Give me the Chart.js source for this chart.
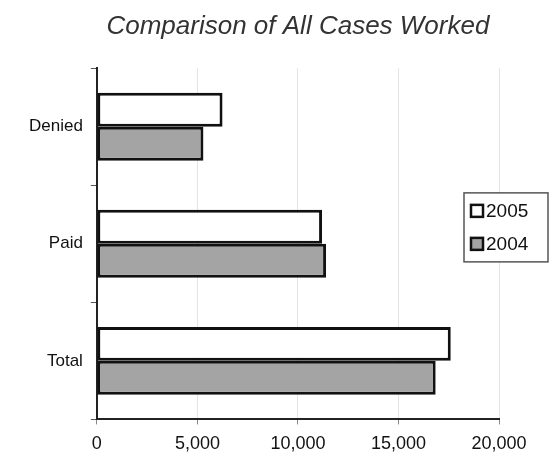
<!DOCTYPE html>
<html>
<head>
<meta charset="utf-8">
<script src="https://cdn.jsdelivr.net/npm/chart.js@4/dist/chart.umd.min.js"></script>
<style>
  html, body { margin: 0; padding: 0; background: #fff; }
  #wrap { width: 549px; height: 460px; }
</style>
</head>
<body>
<div id="wrap"><canvas id="casesChart" width="549" height="460"></canvas></div>
<script>
const categories = ['Denied', 'Paid', 'Total'];
const cases2005 = [6250, 11200, 17600];
const cases2004 = [5300, 11400, 16850];
const seriesLabels = ['2005', '2004'];
const xTicks = [0, 5000, 10000, 15000, 20000];

const FONT = "'Liberation Sans', Arial, sans-serif";

// boxed legend sitting inside the right side of the plot, like the printed chart
const boxLegend = {
  id: 'boxLegend',
  afterDraw(chart) {
    const ctx = chart.ctx;
    const area = chart.chartArea;
    const left = area.right - 35;
    const top = area.top + area.height * 0.355;
    const w = 84, h = 69;
    ctx.save();
    ctx.fillStyle = '#fff';
    ctx.fillRect(left, top, w, h);
    ctx.strokeStyle = '#555';
    ctx.lineWidth = 1.5;
    ctx.strokeRect(left, top, w, h);
    ctx.font = '19px ' + FONT;
    ctx.textBaseline = 'middle';
    chart.data.datasets.forEach((ds, i) => {
      const cy = top + 18 + i * 33;
      ctx.fillStyle = ds.backgroundColor;
      ctx.fillRect(left + 7, cy - 6, 12, 12);
      ctx.strokeStyle = '#111';
      ctx.lineWidth = 2.5;
      ctx.strokeRect(left + 7, cy - 6, 12, 12);
      ctx.fillStyle = '#111';
      ctx.fillText(ds.label, left + 22, cy + 1);
    });
    ctx.restore();
  }
};

new Chart(document.getElementById('casesChart'), {
  type: 'bar',
  data: {
    labels: categories,
    datasets: [
      {
        label: seriesLabels[0],
        data: cases2005,
        backgroundColor: '#ffffff',
        borderColor: '#111',
        borderWidth: 3,
        borderSkipped: false
      },
      {
        label: seriesLabels[1],
        data: cases2004,
        backgroundColor: '#a4a4a4',
        borderColor: '#111',
        borderWidth: 3,
        borderSkipped: false
      }
    ]
  },
  options: {
    indexAxis: 'y',
    responsive: false,
    animation: false,
    categoryPercentage: 0.58,
    barPercentage: 1.0,
    layout: { padding: { left: 21, right: 50, top: 0, bottom: -4 } },
    plugins: {
      legend: { display: false },
      tooltip: { enabled: false },
      title: {
        display: true,
        fullSize: false,
        text: 'Comparison of All Cases Worked',
        color: '#333',
        font: { family: FONT, size: 26, style: 'italic', weight: 'normal' },
        padding: { top: 11, bottom: 26 }
      }
    },
    scales: {
      x: {
        min: xTicks[0],
        max: xTicks[xTicks.length - 1],
        afterBuildTicks: axis => { axis.ticks = xTicks.map(v => ({ value: v })); },
        grid: { color: '#e4e4e4', lineWidth: 1, tickLength: 5, tickColor: '#888' },
        border: { display: true, color: '#222', width: 2 },
        ticks: {
          color: '#111',
          padding: 9,
          font: { family: FONT, size: 18 },
          callback: v => v.toLocaleString('en-US')
        }
      },
      y: {
        grid: { display: true, drawOnChartArea: false, offset: true, tickLength: 6, tickColor: '#555' },
        border: { display: true, color: '#222', width: 2 },
        ticks: {
          color: '#111',
          padding: 8,
          font: { family: FONT, size: 17 }
        }
      }
    }
  },
  plugins: [boxLegend]
});
</script>
</body>
</html>
